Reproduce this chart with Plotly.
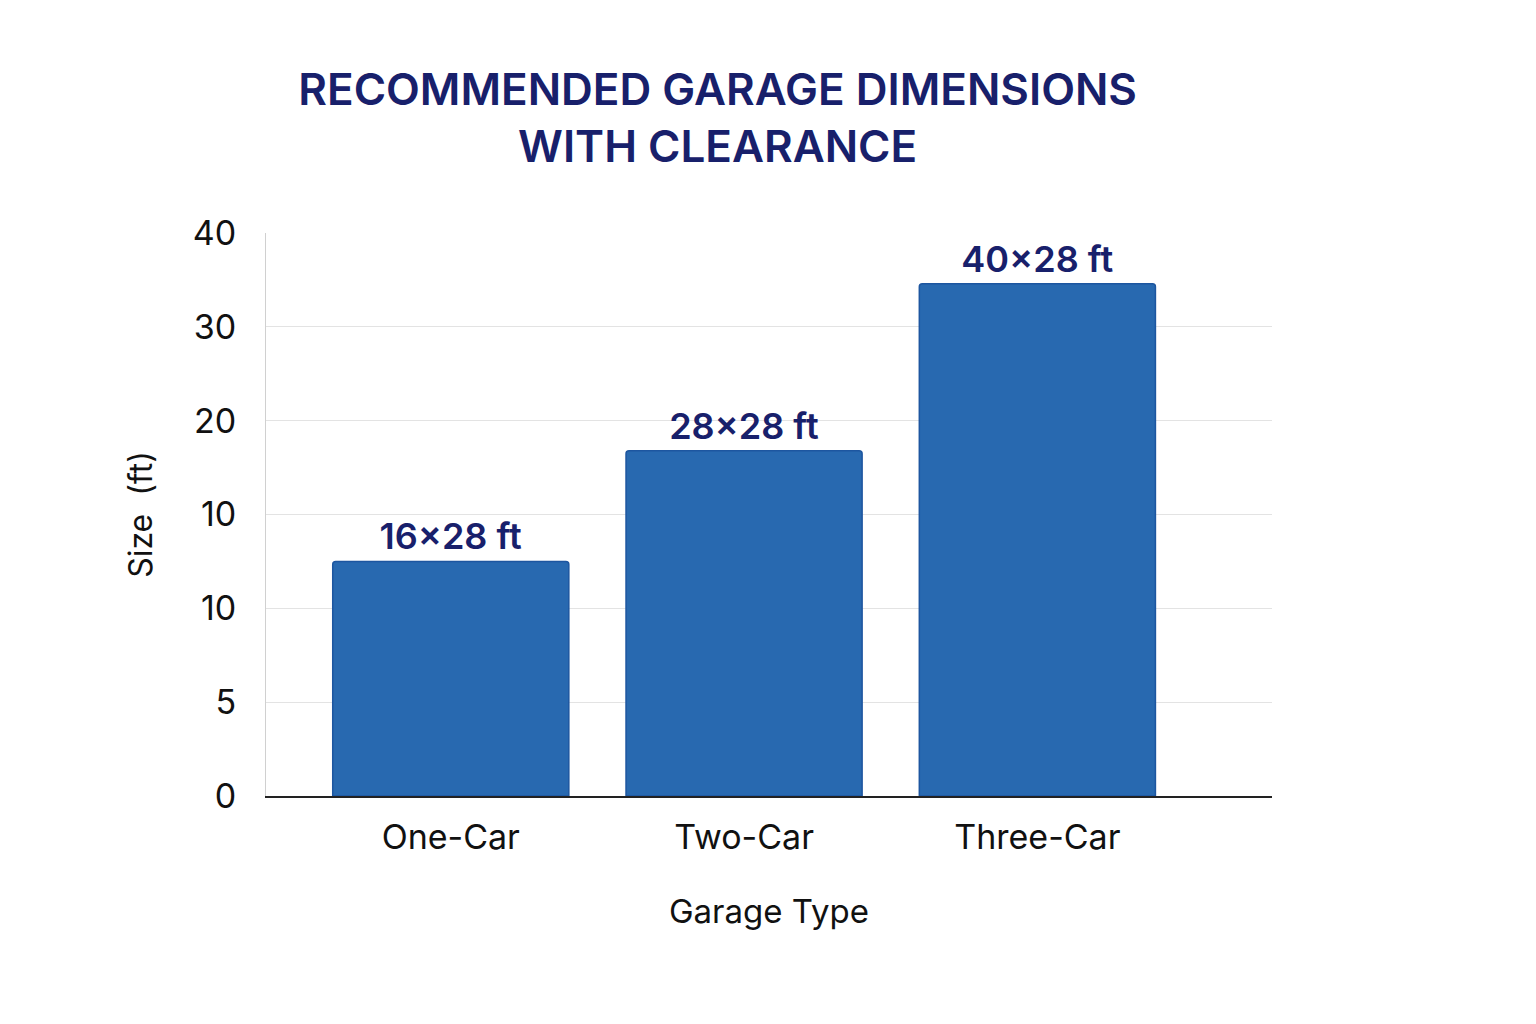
import plotly.graph_objects as go

garage_types = ["One-Car", "Two-Car", "Three-Car"]
# heights in tick-slot units (the reference axis labels are unevenly spaced)
bar_heights = [2.5, 3.68, 5.46]
bar_labels = ["16×28 ft", "28×28 ft", "40×28 ft"]
tick_positions = [0, 1, 2, 3, 4, 5, 6]
tick_labels = ["0", "5", "10", "10", "20", "30", "40"]

navy = "#18206b"

fig = go.Figure()
fig.add_trace(go.Bar(
    x=garage_types,
    y=bar_heights,
    width=0.805,
    marker=dict(color="#2869b0", line=dict(color="#1d56a0", width=1.5), cornerradius=3),
    text=bar_labels,
    textposition="outside",
    cliponaxis=False,
    textfont=dict(family="Inter, Roboto, sans-serif", size=36, color=navy, weight=600),
    showlegend=False,
))

fig.update_layout(
    width=1536, height=1024,
    margin=dict(l=258, r=272, t=225, b=236),
    plot_bgcolor="white", paper_bgcolor="white",
    font=dict(family="Inter, Roboto, sans-serif", color="#111111"),
    title=dict(
        text="RECOMMENDED GARAGE DIMENSIONS<br>WITH CLEARANCE",
        x=0.462, xanchor="center", y=0.905, yanchor="middle",
        font=dict(size=44, color=navy, weight=600),
    ),
    xaxis=dict(
        range=[-0.63, 2.80],
        showline=True, linecolor="#222222", linewidth=1.5,
        tickfont=dict(size=34, color="#111111"),
        ticks="", ticklabelstandoff=10,
        title=dict(text="Garage Type", font=dict(size=33, color="#111111"), standoff=44),
    ),
    yaxis=dict(
        range=[0, 6],
        tickvals=tick_positions, ticktext=tick_labels,
        tickfont=dict(size=34, color="#111111"),
        showgrid=True, gridcolor="#e3e3e3", gridwidth=1.2,
        showline=True, linecolor="#d0d0d0", linewidth=1,
        zeroline=False, ticks="", ticklabelstandoff=22,
        title=dict(text="Size  (ft)", font=dict(size=32, color="#111111"), standoff=30),
    ),
)

fig.write_html("out.html")
